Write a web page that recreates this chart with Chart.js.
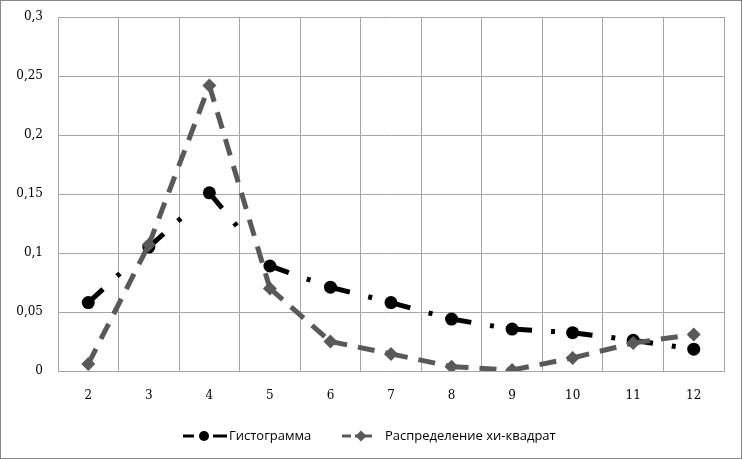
<!DOCTYPE html>
<html>
<head>
<meta charset="utf-8">
<script src="https://cdn.jsdelivr.net/npm/chart.js@4/dist/chart.umd.min.js"></script>
<style>
  body { margin: 0; background: #fff; }
  #wrap { width: 742px; height: 459px; }
</style>
</head>
<body>
<div id="wrap"><canvas id="myChart" width="742" height="459"></canvas></div>
<script>
const categories = ['2', '3', '4', '5', '6', '7', '8', '9', '10', '11', '12'];
const histogram = [0.058, 0.105, 0.151, 0.089, 0.071, 0.058, 0.044, 0.0355, 0.0325, 0.026, 0.0185];
const chiSquare = [0.006, 0.107, 0.242, 0.070, 0.025, 0.0145, 0.0037, 0.0008, 0.011, 0.0237, 0.031];
const yTickLabels = ['0', '0,05', '0,1', '0,15', '0,2', '0,25', '0,3'];
const seriesNames = ['Гистограмма', 'Распределение хи-квадрат'];

const black = '#000000';
const gray = '#595959';

// outer frame + white background
const frame = {
    id: 'frame',
    beforeDraw(chart) {
        const c = chart.ctx;
        c.save();
        c.fillStyle = '#fff';
        c.fillRect(0, 0, chart.width, chart.height);
        c.strokeStyle = '#868686';
        c.lineWidth = 1;
        c.strokeRect(0.5, 0.5, chart.width - 1, chart.height - 1);
        c.restore();
    }
};

// legend drawn like the office one: dash - marker - dash, then the name
const officeLegend = {
    id: 'officeLegend',
    afterDraw(chart) {
        const c = chart.ctx;
        const y = 436;
        c.save();
        c.font = '13px "Open Sans"';
        c.textBaseline = 'middle';
        c.textAlign = 'left';

        // item 1
        c.fillStyle = black;
        c.fillRect(183, y - 1.5, 11, 3);
        c.fillRect(213, y - 1.5, 14, 3);
        c.beginPath();
        c.arc(204, y, 5, 0, Math.PI * 2);
        c.fill();
        c.fillText(chart.data.datasets[0].label, 229, y);

        // item 2
        c.fillStyle = gray;
        c.fillRect(342, y - 1.5, 9, 3);
        c.fillRect(355, y - 1.5, 17, 3);
        c.beginPath();
        c.moveTo(361, y - 5.5);
        c.lineTo(366.5, y);
        c.lineTo(361, y + 5.5);
        c.lineTo(355.5, y);
        c.closePath();
        c.fill();
        c.fillStyle = black;
        c.fillText(chart.data.datasets[1].label, 385, y);
        c.restore();
    }
};

const ctx = document.getElementById('myChart').getContext('2d');

// tiny per-segment offset forces each segment to be stroked on its own,
// so the dash pattern restarts at every point like in the original
const restartDash = { borderDashOffset: (s) => s.p0DataIndex * 0.001 };

const chart = new Chart(ctx, {
    type: 'line',
    data: {
        labels: categories,
        datasets: [
            {
                label: seriesNames[0],
                data: histogram,
                borderColor: black,
                backgroundColor: black,
                borderWidth: 5,
                borderDash: [20, 19, 4, 60],
                segment: restartDash,
                pointStyle: 'circle',
                pointRadius: 6.5,
                pointBorderWidth: 0,
                tension: 0,
                order: 2
            },
            {
                label: seriesNames[1],
                data: chiSquare,
                borderColor: gray,
                backgroundColor: gray,
                borderWidth: 5,
                borderDash: [17, 11],
                segment: restartDash,
                pointStyle: 'rectRot',
                pointRadius: 7,
                pointBorderWidth: 0,
                tension: 0,
                order: 1
            }
        ]
    },
    options: {
        responsive: false,
        animation: false,
        layout: { padding: { left: 0, right: 18, top: 17, bottom: 39.5 } },
        plugins: {
            tooltip: { enabled: false },
            legend: { display: false }
        },
        scales: {
            x: {
                offset: true,
                grid: { color: '#a6a6a6', drawTicks: false, offset: true },
                border: { color: '#a6a6a6' },
                ticks: { color: '#000', padding: 18, font: { family: 'DejaVu Serif', size: 12 } },
                afterFit: (scale) => { scale.height = 48.5; }
            },
            y: {
                min: 0,
                max: 0.3,
                grid: { color: '#a6a6a6', drawTicks: false },
                border: { color: '#a6a6a6' },
                ticks: {
                    stepSize: 0.05,
                    padding: 15,
                    color: '#000',
                    font: { family: 'DejaVu Serif', size: 12 },
                    callback: (v, i) => yTickLabels[i]
                },
                afterFit: (scale) => {
                    scale.width = 58;
                    scale.paddingTop = 0;
                    scale.paddingBottom = 0;
                }
            }
        }
    },
    plugins: [frame, officeLegend]
});
</script>
</body>
</html>
